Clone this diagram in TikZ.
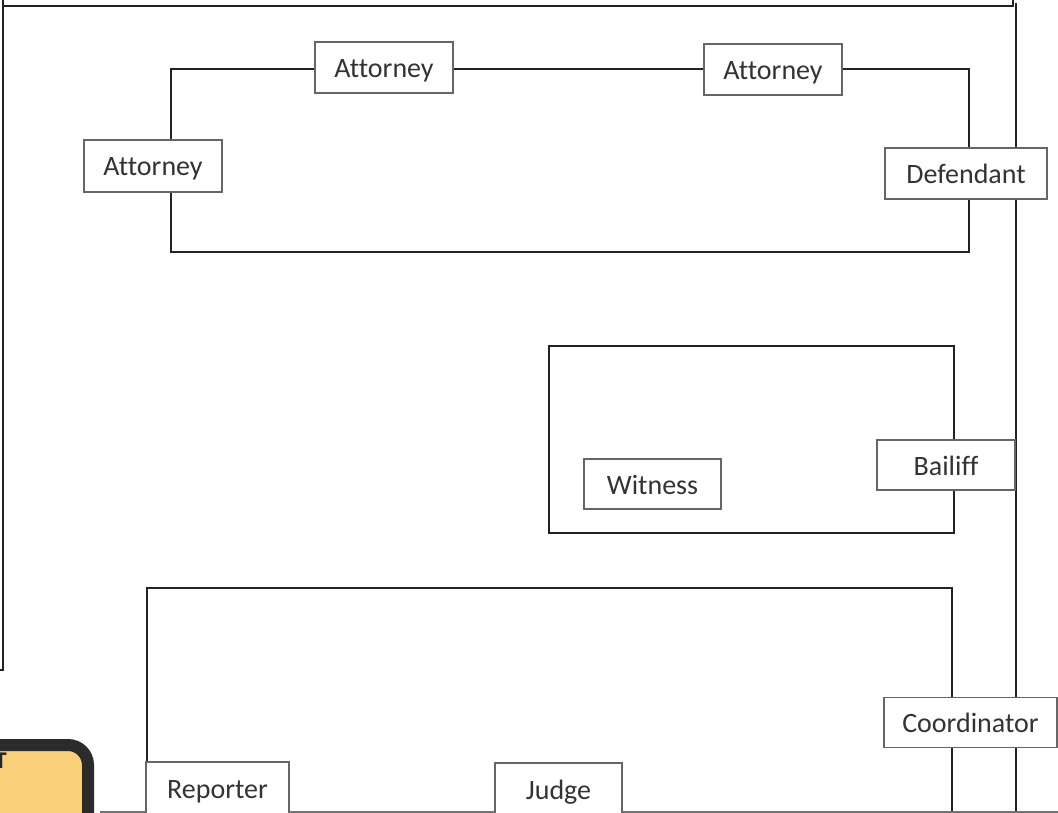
\documentclass[tikz,border=0pt]{standalone}
\usepackage{fontspec}
\setmainfont{Carlito}[Ligatures={NoCommon}]
\usetikzlibrary{backgrounds}
\definecolor{wallc}{HTML}{222222}
\definecolor{boxc}{HTML}{666666}
\definecolor{txtc}{HTML}{333333}
\definecolor{signfill}{HTML}{F8D07A}
\definecolor{signedge}{HTML}{2B2B2B}
\begin{document}
\begin{tikzpicture}[x=1pt,y=-1pt,
  wall/.style={draw=wallc, line width=2pt},
  role/.style={draw=boxc, line width=1.3pt, fill=white, text=txtc, inner sep=0pt,
    text height=20pt, text depth=0pt,
    font=\fontsize{28}{32}\selectfont},
]
\useasboundingbox (0,0) rectangle (1058,813);

% seats and roles
\begin{scope}
\clip (0,0) rectangle (1058,813);
\node[role, minimum width=138pt, minimum height=51pt] (att1) at (384,67.5) {Attorney};
\node[role, minimum width=138pt, minimum height=51pt] (att2) at (773,69.5) {Attorney};
\node[role, minimum width=138pt, minimum height=52pt] (att3) at (153,166) {Attorney};
\node[role, minimum width=162pt, minimum height=51pt] (def) at (966,173.5) {Defendant};
\node[role, minimum width=137pt, minimum height=50pt] (wit) at (652.5,484) {Witness};
\node[role, minimum width=138pt, minimum height=50pt] (bail) at (946,465) {Bailiff};
\node[role, minimum width=173pt, minimum height=50pt] (coord) at (970.5,722.5) {Coordinator};
\node[role, minimum width=143pt, minimum height=52pt] (rep) at (217.5,788) {Reporter};
\node[role, minimum width=127pt, minimum height=52pt] (judge) at (558.5,789) {Judge};

% sign in the lower left corner
\node[draw=signedge, line width=12pt, fill=signfill, rounded corners=20pt,
  minimum width=150pt, minimum height=130pt, anchor=north east] (sign) at (94,739) {};
\node[anchor=base east, text=black!85, font=\bfseries\fontsize{24}{28}\selectfont,
  inner sep=0pt] (signtext) at (7,768) {T};
\end{scope}

% walls and benches behind the role boxes
\begin{pgfonlayer}{background}
\begin{scope}
\clip (0,0) rectangle (1058,813);
% outer room
\coordinate (fa) at (3,-3);
\coordinate (fb) at (3,670);
\coordinate (fc) at (-3,670);
\coordinate (fd) at (3,6);
\coordinate (fe) at (1013,6);
\coordinate (ff) at (1013,-3);
\coordinate (fg) at (1016,3);
\coordinate (fh) at (1016,818);
\draw[wall] (fa) -- (fb) -- (fc);
\draw[wall] (fd) -- (fe) -- (ff);
\draw[wall] (fg) -- (fh);

% counsel table
\coordinate (tA) at (171,69.5);
\coordinate (tB) at (969,69.5);
\coordinate (tC) at (969,252);
\coordinate (tD) at (171,252);
\draw[wall] (att1.west |- tA) -- (tA) -- (tA |- att3.north);
\draw[wall] (tA |- att3.south) -- (tD) -- (tC) -- (tC |- def.south);
\draw[wall] (tB |- def.north) -- (tB) -- (att2.east |- tB);
\draw[wall] (att1.east |- tA) -- (att2.west |- tA);

% witness stand
\coordinate (mA) at (549,346);
\coordinate (mB) at (954,346);
\coordinate (mC) at (954,533);
\coordinate (mD) at (549,533);
\draw[wall] (mB |- bail.north) -- (mB) -- (mA) -- (mD) -- (mC) -- (mC |- bail.south);

% bench
\coordinate (bA) at (147,588);
\coordinate (bB) at (952,588);
\coordinate (bE) at (952,818);
\draw[wall] (bA |- rep.north) -- (bA) -- (bB) -- (bB |- coord.north);
\draw[wall] (bB |- coord.south) -- (bE);

% floor edge
\coordinate (gA) at (100,812);
\coordinate (gB) at (1060,812);
\draw[draw=black!55, line width=2pt] (gA) -- (gB);
\end{scope}
\end{pgfonlayer}
\end{tikzpicture}
\end{document}
